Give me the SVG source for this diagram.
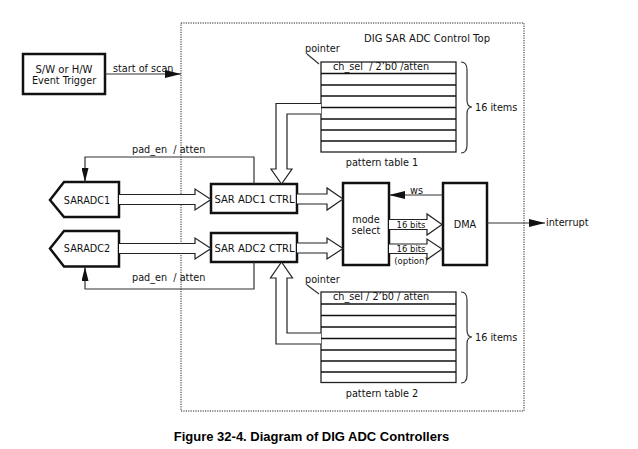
<svg xmlns="http://www.w3.org/2000/svg" width="638" height="449" viewBox="0 0 638 449">
<style>
text{font-family:"DejaVu Sans","Noto Sans",sans-serif;font-size:9.7px;fill:#111}
.sm{font-size:8.5px}
.mid{text-anchor:middle}
.thick{fill:#fff;stroke:#111;stroke-width:2.5}
.tbl{fill:#fff;stroke:#222;stroke-width:1.3}
.row{stroke:#111;stroke-width:1.6}
.ln{fill:none;stroke:#333;stroke-width:1.2}
.hol{fill:#fff;stroke:#222;stroke-width:1.2;stroke-linejoin:miter}
.cap{font-family:"Liberation Sans",Arial,sans-serif;font-weight:bold;font-size:13px;fill:#000}
</style>
<defs>
<marker id="ah" viewBox="0 0 16 8" refX="16" refY="4" markerWidth="16" markerHeight="8" markerUnits="userSpaceOnUse" orient="auto">
<path d="M0,0 L16,4 L0,8 z" fill="#111"/>
</marker>
<marker id="av" viewBox="0 0 14 7" refX="14" refY="3.5" markerWidth="14" markerHeight="7" markerUnits="userSpaceOnUse" orient="auto">
<path d="M0,0 L14,3.5 L0,7 z" fill="#111"/>
</marker>
</defs>

<g id="control-top">
<rect x="181" y="23" width="343" height="388" fill="none" stroke="#222" stroke-width="1" stroke-dasharray="1.2,1.2"/>
<text x="427" y="41.5" class="mid" style="font-size:10px">DIG SAR ADC Control Top</text>
</g>

<g id="trigger">
<rect x="23" y="54" width="82" height="40" class="thick"/>
<text x="64" y="72.5" class="mid" style="font-size:10px">S/W or H/W</text>
<text x="64" y="84" class="mid">Event Trigger</text>
</g>

<g id="saradc1">
<path d="M50,200 L64,182 H119 V217 H64 Z" class="thick"/>
<text x="87" y="203.5" class="mid">SARADC1</text>
</g>
<g id="saradc2">
<path d="M50,248.5 L64,231 H119 V266.5 H64 Z" class="thick"/>
<text x="87" y="252" class="mid">SARADC2</text>
</g>

<g id="ctrl1">
<rect x="211" y="184" width="86" height="29" class="thick"/>
<text x="254.5" y="202.5" class="mid" style="font-size:10px">SAR ADC1 CTRL</text>
</g>
<g id="ctrl2">
<rect x="211" y="233" width="86" height="29" class="thick"/>
<text x="254.5" y="251.5" class="mid" style="font-size:10px">SAR ADC2 CTRL</text>
</g>

<g id="mode-select">
<rect x="343" y="183" width="46" height="82" class="thick"/>
<text x="366" y="222.5" class="mid">mode</text>
<text x="366" y="234" class="mid">select</text>
</g>
<g id="dma">
<rect x="443" y="183" width="44" height="82" class="thick"/>
<text x="465" y="227.5" class="mid">DMA</text>
</g>

<g id="table1">
<rect x="321" y="62" width="135" height="90" class="tbl"/>
<path d="M321,73.5 H456 M321,85 H456 M321,96 H456 M321,107.5 H456 M321,119 H456 M321,130 H456 M321,141 H456" class="row"/>
<text x="333" y="69.5" xml:space="preserve">ch_sel  / 2’b0 /atten</text>
<text x="305" y="51.5">pointer</text>
<path d="M307,54 L319,64" class="ln"/>
<path d="M461,62 Q467,62 467,70 V100 Q467,107 472,107 Q467,107 467,114 V145 Q467,153 461,153" class="ln"/>
<text x="475" y="110.5">16 items</text>
<text x="382" y="165.5" class="mid">pattern table 1</text>
</g>

<g id="table2">
<rect x="321" y="292" width="135" height="90.5" class="tbl"/>
<path d="M321,304 H456 M321,315.5 H456 M321,327 H456 M321,338.5 H456 M321,350 H456 M321,361 H456 M321,372 H456" class="row"/>
<text x="333" y="299.5">ch_sel / 2’b0 / atten</text>
<text x="305" y="283">pointer</text>
<path d="M307,285 L319,294" class="ln"/>
<path d="M461,292 Q467,292 467,300 V330 Q467,337 472,337 Q467,337 467,344 V375 Q467,383 461,383" class="ln"/>
<text x="475" y="340.5">16 items</text>
<text x="382" y="396.5" class="mid">pattern table 2</text>
</g>

<g id="connectors">
<path d="M105,74 H181" class="ln" marker-end="url(#ah)"/>
<text x="113" y="71.5">start of scan</text>

<path d="M254,184 V157 H85 V182" class="ln" marker-end="url(#av)"/>
<text x="132" y="153" xml:space="preserve">pad_en  / atten</text>
<path d="M254,262 V289 H85 V267" class="ln" marker-end="url(#av)"/>
<text x="132" y="281" xml:space="preserve">pad_en  / atten</text>

<path d="M119,194.5 H195 V189 L211,199.5 L195,210 V204.5 H119" class="hol"/>
<path d="M119,243.5 H195 V238 L211,248.5 L195,259 V253.5 H119" class="hol"/>

<path d="M297,194 H327 V188 L343,199 L327,210 V204 H297" class="hol"/>
<path d="M297,243 H327 V238 L343,248.5 L327,259 V253 H297" class="hol"/>

<path d="M321,103.5 H276 V169 H271 L281.5,184 L292,169 H287 V114 H321" class="hol"/>
<path d="M321,344 H276 V278 H270.5 L281.5,262 L292.5,278 H287 V333 H321" class="hol"/>

<path d="M443,195 H389" class="ln" marker-end="url(#ah)"/>
<text x="410" y="193.5">ws</text>

<path d="M389,219.5 H427 V214 L442,224.5 L427,235 V229.5 H389" class="hol"/>
<text x="411" y="228" class="sm mid">16 bits</text>
<path d="M389,244 H427 V239 L442,249 L427,259.5 V253.5 H389" class="hol"/>
<text x="411" y="252" class="sm mid">16 bits</text>
<text x="411" y="263.5" class="sm mid">(option)</text>

<path d="M487,223 H545" class="ln" marker-end="url(#ah)"/>
<text x="546" y="226">interrupt</text>
</g>

<text x="311.5" y="440.5" class="cap mid">Figure 32-4. Diagram of DIG ADC Controllers</text>
</svg>
